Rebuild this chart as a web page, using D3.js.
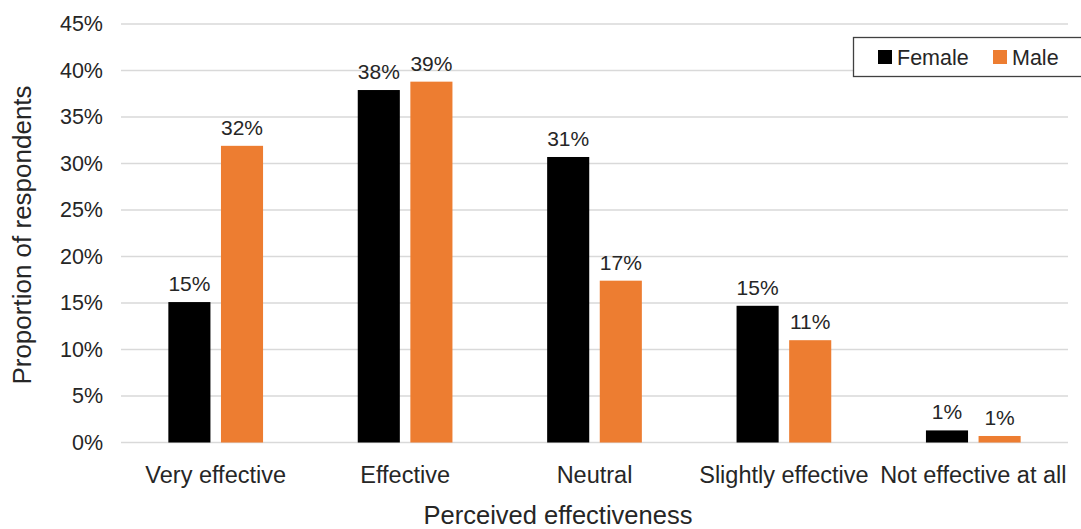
<!DOCTYPE html>
<html>
<head>
<meta charset="utf-8">
<script src="https://cdn.jsdelivr.net/npm/d3@7"></script>
<style>
  html, body { margin: 0; padding: 0; background: #fff; }
  svg { display: block; font-family: "Liberation Sans", Arial, sans-serif; }
</style>
</head>
<body>
<svg id="chart" width="1081" height="529"></svg>
<script>
// Perceived effectiveness by gender (share of respondents)
const categories = ["Very effective", "Effective", "Neutral", "Slightly effective", "Not effective at all"];
const seriesNames = ["Female", "Male"];
const female = [0.151, 0.379, 0.307, 0.147, 0.013];
const male = [0.319, 0.388, 0.174, 0.110, 0.007];
const yTicks = [0, 0.05, 0.10, 0.15, 0.20, 0.25, 0.30, 0.35, 0.40, 0.45];
const colors = ["#000000", "#ED7D31"];

const svg = d3.select("#chart");
const margin = { left: 121, right: 13, top: 24, bottom: 86.5 };
const W = 1081, H = 529;
const textColor = "#262626";
const pct = d3.format(".0%");

const x = d3.scaleBand().domain(categories).range([margin.left, W - margin.right]);
const xs = d3.scaleBand().domain(seriesNames).range([0, x.bandwidth()]).paddingInner(0.2).paddingOuter(0.9);
const y = d3.scaleLinear().domain([0, 0.45]).range([H - margin.bottom, margin.top]);

// gridlines
svg.append("g")
  .selectAll("line")
  .data(yTicks)
  .join("line")
  .attr("x1", margin.left).attr("x2", W - margin.right)
  .attr("y1", d => y(d)).attr("y2", d => y(d))
  .attr("stroke", "#d9d9d9").attr("stroke-width", 1.5);

// y axis labels
const yAxis = d3.axisLeft(y).tickValues(yTicks).tickFormat(pct).tickSize(0).tickPadding(18);
const gy = svg.append("g").attr("transform", `translate(${margin.left},0)`).call(yAxis);
gy.select(".domain").remove();
gy.selectAll("text").attr("fill", textColor).style("font-size", "21.5px").style("font-family", "Liberation Sans, Arial, sans-serif");

// x axis labels
const xAxis = d3.axisBottom(x).tickSize(0).tickPadding(23.5);
const gx = svg.append("g").attr("transform", `translate(0,${y(0)})`).call(xAxis);
gx.select(".domain").remove();
gx.selectAll("text").attr("fill", textColor).style("font-size", "23.5px").style("font-family", "Liberation Sans, Arial, sans-serif");

// bars
const rows = categories.map((c, i) => ({ cat: c, vals: [female[i], male[i]] }));
const groups = svg.append("g").selectAll("g")
  .data(rows)
  .join("g")
  .attr("transform", d => `translate(${x(d.cat)},0)`);

groups.selectAll("rect")
  .data(d => d.vals.map((v, j) => ({ name: seriesNames[j], v, j })))
  .join("rect")
  .attr("x", d => xs(d.name))
  .attr("width", xs.bandwidth())
  .attr("y", d => y(d.v))
  .attr("height", d => y(0) - y(d.v))
  .attr("fill", d => colors[d.j]);

// value labels above bars
groups.selectAll("text")
  .data(d => d.vals.map((v, j) => ({ name: seriesNames[j], v, j })))
  .join("text")
  .attr("x", d => xs(d.name) + xs.bandwidth() / 2)
  .attr("y", d => y(d.v) - 11)
  .attr("text-anchor", "middle")
  .attr("fill", textColor)
  .style("font-size", "21px")
  .text(d => pct(d.v));

// axis titles
svg.append("text")
  .attr("transform", `translate(31,235) rotate(-90)`)
  .attr("text-anchor", "middle")
  .attr("fill", textColor)
  .style("font-size", "26px")
  .text("Proportion of respondents");

svg.append("text")
  .attr("x", 558).attr("y", 524)
  .attr("text-anchor", "middle")
  .attr("fill", textColor)
  .style("font-size", "25.5px")
  .text("Perceived effectiveness");

// legend
const legend = svg.append("g");
legend.append("rect")
  .attr("x", 853.5).attr("y", 37.5).attr("width", 240).attr("height", 39)
  .attr("fill", "#fff").attr("stroke", "#404040").attr("stroke-width", 1.3);
const legendX = [878, 993];
seriesNames.forEach((n, i) => {
  legend.append("rect")
    .attr("x", legendX[i]).attr("y", 50).attr("width", 14).attr("height", 14)
    .attr("fill", colors[i]);
  legend.append("text")
    .attr("x", legendX[i] + 19).attr("y", 64.5)
    .attr("fill", textColor)
    .style("font-size", "21.5px")
    .text(n);
});
</script>
</body>
</html>
